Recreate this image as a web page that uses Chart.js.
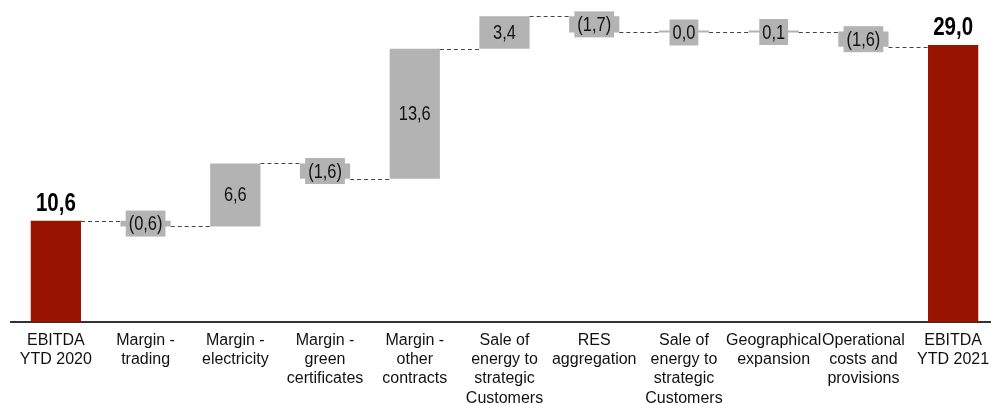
<!DOCTYPE html>
<html>
<head>
<meta charset="utf-8">
<script src="https://cdn.jsdelivr.net/npm/chart.js@4.4.0/dist/chart.umd.min.js"></script>
<style>
  html, body { margin: 0; padding: 0; background: #fff; overflow: hidden; }
  #wrap { width: 998px; height: 404px; }
</style>
</head>
<body>
<div id="wrap"><canvas id="chart"></canvas></div>
<script>
// categories (multi-line tick labels)
const categories = [
    ['EBITDA', 'YTD 2020'],
    ['Margin -', 'trading'],
    ['Margin -', 'electricity'],
    ['Margin -', 'green', 'certificates'],
    ['Margin -', 'other', 'contracts'],
    ['Sale of', 'energy to', 'strategic', 'Customers'],
    ['RES', 'aggregation'],
    ['Sale of', 'energy to', 'strategic', 'Customers'],
    ['Geographical', 'expansion'],
    ['Operational', 'costs and', 'provisions'],
    ['EBITDA', 'YTD 2021']
];
// EBITDA bridge values (mln)
const values = [10.6, -0.6, 6.6, -1.6, 13.6, 3.4, -1.7, 0.0, 0.1, -1.6, 29.0];
const isTotal = [true, false, false, false, false, false, false, false, false, false, true];

const RED = '#991400';
const GREY = '#b3b3b3';
const FONT = "'Liberation Sans', Arial, sans-serif";
const SQUEEZE = 0.82; // fake "Arial Narrow"

// floating ranges for the waterfall
let run = 0;
const ranges = values.map((v, i) => {
    if (isTotal[i]) { run = v; return [0, v]; }
    const r = [run, run + v];
    run += v;
    return r;
});

function fmt(v) {
    const s = Math.abs(v).toFixed(1).replace('.', ',');
    return v < 0 ? '(' + s + ')' : s;
}

function narrowText(ctx, txt, x, y) {
    ctx.save();
    ctx.translate(x, y);
    ctx.scale(SQUEEZE, 1);
    ctx.fillText(txt, 0, 0);
    ctx.restore();
}

// connectors + value labels
const waterfallPlugin = {
    id: 'waterfall',
    afterDatasetsDraw(chart) {
        const ctx = chart.ctx;
        const meta = chart.getDatasetMeta(0);
        const y = chart.scales.y;

        ctx.save();
        ctx.strokeStyle = '#444';
        ctx.lineWidth = 1;
        ctx.setLineDash([4, 3]);
        for (let i = 0; i < meta.data.length - 1; i++) {
            const a = meta.data[i], b = meta.data[i + 1];
            const yy = Math.round(y.getPixelForValue(ranges[i][1])) + 0.5;
            ctx.beginPath();
            ctx.moveTo(a.x + a.width / 2, yy);
            ctx.lineTo(b.x - b.width / 2, yy);
            ctx.stroke();
        }
        ctx.restore();

        ctx.save();
        ctx.textAlign = 'center';
        meta.data.forEach((bar, i) => {
            const v = values[i];
            const txt = fmt(v);
            if (isTotal[i]) {
                ctx.font = 'bold 25px ' + FONT;
                ctx.fillStyle = '#000';
                ctx.textBaseline = 'alphabetic';
                narrowText(ctx, txt, bar.x, y.getPixelForValue(v) - 10);
                return;
            }
            const mid = y.getPixelForValue((ranges[i][0] + ranges[i][1]) / 2);
            ctx.font = '20px ' + FONT;
            ctx.textBaseline = 'middle';
            if (Math.abs(v) < 2) {
                const w = ctx.measureText(txt).width * SQUEEZE + 6;
                ctx.fillStyle = GREY;
                ctx.fillRect(bar.x - w / 2, mid - 13, w, 26);
            }
            ctx.fillStyle = '#111';
            narrowText(ctx, txt, bar.x, mid + 1);
        });
        ctx.restore();
    }
};

new Chart(document.getElementById('chart'), {
    type: 'bar',
    data: {
        labels: categories,
        datasets: [{
            data: ranges,
            backgroundColor: isTotal.map(t => t ? RED : GREY),
            borderSkipped: false,
            barPercentage: 0.56,
            categoryPercentage: 1,
            minBarLength: 2
        }]
    },
    options: {
        responsive: true,
        maintainAspectRatio: false,
        animation: false,
        layout: { padding: { left: 11, right: 0, top: 0, bottom: 0 } },
        plugins: {
            legend: { display: false },
            tooltip: { enabled: false }
        },
        scales: {
            x: {
                grid: { display: false },
                border: { display: true, color: '#333', width: 2 },
                ticks: {
                    color: '#111',
                    padding: 1,
                    maxRotation: 0,
                    autoSkip: false,
                    font: { family: FONT, size: 16, lineHeight: 1.2 }
                },
                afterFit: scale => { scale.height = 82; }
            },
            y: { display: false, min: 0, max: 33.7 }
        }
    },
    plugins: [waterfallPlugin]
});
</script>
</body>
</html>
